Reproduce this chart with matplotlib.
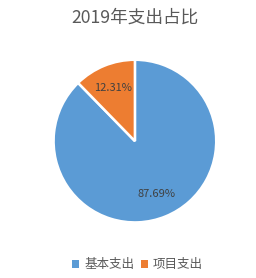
import matplotlib.pyplot as plt
from matplotlib.patches import Patch

plt.rcParams['font.family'] = ['Noto Sans CJK SC', 'DejaVu Sans']

# data
categories = ['基本支出', '项目支出']
values = [87.69, 12.31]
colors = ['#5B9BD5', '#ED7D31']

fig = plt.figure(figsize=(2.56, 2.78), dpi=100)
ax = fig.add_axes([0.203, 0.194, 0.648, 0.597])

wedges, texts, autotexts = ax.pie(
    values, colors=colors, startangle=90, counterclock=False,
    autopct='%.2f%%', pctdistance=0.7,
    wedgeprops=dict(edgecolor='white', linewidth=1.8),
    textprops=dict(color='#404040', fontsize=8),
)
ax.set_xlim(-1.02, 1.02)
ax.set_ylim(-1.02, 1.02)

fig.text(0.527, 0.937, '2019年支出占比', ha='center', va='center',
         fontsize=12.7, color='#595959')

handles = [Patch(facecolor=c, label=l) for c, l in zip(colors, categories)]
fig.legend(handles=handles, loc='center', bbox_to_anchor=(0.537, 0.048),
           ncol=2, frameon=False, fontsize=9, handlelength=0.6, handleheight=0.6,
           handletextpad=0.4, columnspacing=0.5, labelcolor='#595959')

fig.savefig('out.png', dpi=100)
